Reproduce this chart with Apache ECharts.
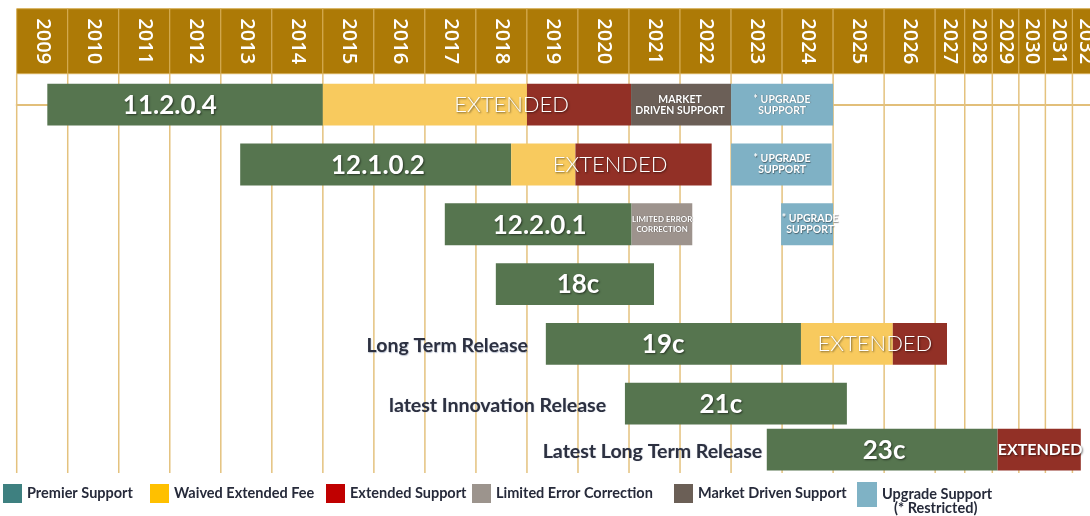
<!DOCTYPE html>
<html><head><meta charset="utf-8">
<script src="https://cdn.jsdelivr.net/npm/echarts@6/dist/echarts.min.js"></script>
<style>html,body{margin:0;padding:0;background:#fff}#c{width:1090px;height:516px}</style>
</head><body><div id="c"></div>
<script>
// ---------- data ----------
const yearLabels = ['2009','2010','2011','2012','2013','2014','2015','2016','2017','2018','2019','2020',
  '2021','2022','2023','2024','2025','2026','2027','2028','2029','2030','2031','2032'];
const releases = ['11.2.0.4','12.1.0.2','12.2.0.1','18c','19c','21c','23c'];
const rowLane = [0, 1, 2, 3, 4, 5, 5.77];
// [row, fromYear, toYear]
const premier      = [[0,2009.6,2015.0],[1,2013.38,2018.69],[2,2017.39,2021.05],[3,2018.39,2021.49],[4,2019.37,2024.37],[5,2020.92,2025.27],[6,2023.7,2029.2]];
const waived       = [[0,2015.0,2019.0],[1,2018.69,2019.95],[4,2024.37,2026.17]];
const extended     = [[0,2019.0,2021.04],[1,2019.95,2022.62],[4,2026.17,2027.4],[6,2029.2,2032.31]];
const limitedError = [[2,2021.05,2022.24]];
const marketDriven = [[0,2021.04,2023.0]];
const upgrade      = [[0,2023.0,2025.0],[1,2023.0,2024.97],[2,2023.98,2025.0]];
// version label centre (year) per release row
const versionLabelAt = [2012.0, 2016.08, 2019.25, 2020.0, 2021.67, 2022.8, 2026.0];
// [row, centreYear, text, kind]
const bandNotes = [
  [0, 2018.7, 'EXTENDED', 'big'],
  [1, 2020.63, 'EXTENDED', 'big'],
  [4, 2025.82, 'EXTENDED', 'big'],
  [6, 2030.8, 'EXTENDED', 'bold'],
  [0, 2022.0, 'MARKET\nDRIVEN SUPPORT', 'small'],
  [0, 2024.0, '* UPGRADE\nSUPPORT', 'small'],
  [1, 2024.0, '* UPGRADE\nSUPPORT', 'small'],
  [2, 2024.55, '* UPGRADE\nSUPPORT', 'small'],
  [2, 2021.65, 'LIMITED ERROR\nCORRECTION', 'tiny']
];
// [row, text, right edge year]
const sideNotes = [[4,'Long Term Release',2019.02],[5,'latest Innovation Release',2020.55],[6,'Latest Long Term Release',2023.61]];
const legendNames = ['Premier Support','Waived Extended Fee','Extended Support','Limited Error Correction','Market Driven Support','Upgrade Support'];

// ---------- styling / scale ----------
const legendColors = ['#3e8080','#ffc000','#c00000','#9c948d','#6b5f56','#7fb2c5'];
const barColors    = ['#56754f','#f8ca5e','#923026','#9d938d','#6b5f57','#7fb1c5'];
const legendLeft   = [3, 150, 326, 472, 674, 857];
const colWeight = {2027:0.58, 2028:0.54, 2029:0.52, 2030:0.52, 2031:0.53, 2032:0.53};
function w(y){ return colWeight[y] || 1; }
function unit(y){
  const f = Math.floor(y); let u = 0;
  for (let k = 2009; k < f; k++) u += w(k);
  return u + (y - f) * w(f);
}
const X_MAX = unit(2032.65);
const Y_MIN = -0.518, Y_MAX = 6.16, HALF = 0.35;
const FONT = 'Lato, "Open Sans", sans-serif';

function segSeries(idx, segs){
  const color = barColors[idx];
  return {
    type:'custom', name: legendNames[idx], xAxisIndex:1, yAxisIndex:1, z:3, clip:true,
    itemStyle:{color},
    data: segs.map(s => [unit(s[1]), unit(s[2]), rowLane[s[0]]]),
    renderItem(params, api){
      const a = api.coord([api.value(0), api.value(2) - HALF]);
      const b = api.coord([api.value(1), api.value(2) + HALF]);
      return {type:'rect', shape:{x:a[0], y:Math.min(a[1],b[1]), width:b[0]-a[0], height:Math.abs(b[1]-a[1])},
        style:{fill:color}};
    }
  };
}

const shadow = {textShadowColor:'rgba(0,0,0,0.55)', textShadowBlur:2, textShadowOffsetX:1, textShadowOffsetY:1};
const noteStyles = {
  big:  {font:'300 22px ' + FONT, lineHeight:24},
  bold: {font:'bold 16px ' + FONT, lineHeight:18},
  small:{font:'bold 10.5px ' + FONT, lineHeight:11},
  tiny: {font:'bold 8px ' + FONT, lineHeight:10}
};
const legendText = {fontFamily:FONT, fontWeight:'bold', fontSize:14.5, color:'#262a3a'};

const option = {
  animation:false,
  backgroundColor:'#fff',
  grid:[
    {left:16.7, right:0, top:8.7, height:65},
    {left:16.7, right:0, top:73.7, bottom:43}
  ],
  xAxis:[
    {gridIndex:0, type:'value', min:0, max:X_MAX, show:false},
    {gridIndex:1, type:'value', min:0, max:X_MAX, position:'bottom',
      axisLine:{show:true, lineStyle:{color:'#e2bf7a', width:2}}, axisTick:{show:false}, axisLabel:{show:false}, splitLine:{show:false}}
  ],
  yAxis:[
    {gridIndex:0, type:'value', min:0, max:1, show:false},
    {gridIndex:1, type:'value', min:Y_MIN, max:Y_MAX, inverse:true, show:false}
  ],
  legend: legendNames.map((n,i) => {
    const l = {
      data:[{name:n, itemStyle:{color:legendColors[i], borderWidth:0}}],
      left:legendLeft[i], top:484, padding:0, itemGap:0, icon:'rect', itemWidth:19, itemHeight:19,
      selectedMode:false,
      textStyle:Object.assign({}, legendText)
    };
    if (n === 'Upgrade Support') {
      l.formatter = () => '{e| }\n{a|Upgrade Support}\n{b|(* Restricted)}';
      l.textStyle.rich = {
        e:Object.assign({lineHeight:14}, legendText),
        a:Object.assign({lineHeight:14}, legendText),
        b:Object.assign({lineHeight:14, padding:[0,0,0,12]}, legendText)
      };
      l.itemWidth = 20; l.itemHeight = 25;
      l.top = 473;
    }
    return l;
  }),
  series:[
    // header cells with year labels
    {
      type:'custom', xAxisIndex:0, yAxisIndex:0, z:1, silent:true, clip:false,
      data: yearLabels.map(y => [unit(+y), unit(+y + 1)]),
      renderItem(params, api){
        const cs = params.coordSys;
        const x0 = api.coord([api.value(0), 0])[0];
        const x1 = api.coord([api.value(1), 0])[0];
        return {type:'group', children:[
          {type:'rect', shape:{x:x0, y:cs.y, width:x1-x0, height:cs.height},
            style:{fill:'#ad7a06', stroke:'#d6ad55', lineWidth:1}},
          {type:'text', x:(x0+x1)/2, y:cs.y + cs.height/2, rotation:-Math.PI/2,
            style:{text:yearLabels[params.dataIndex], x:0, y:0, align:'center', verticalAlign:'middle',
              fill:'#fff', font:'600 20px "Open Sans", sans-serif'}}
        ]};
      }
    },
    // vertical year grid lines
    {
      type:'custom', xAxisIndex:1, yAxisIndex:1, z:1, silent:true, clip:false,
      data: yearLabels.map(y => [unit(+y)]),
      renderItem(params, api){
        const cs = params.coordSys;
        const x = api.coord([api.value(0), 0])[0];
        return {type:'line', shape:{x1:x, y1:cs.y, x2:x, y2:cs.y + cs.height},
          style:{stroke:'#e4c27e', lineWidth:1.5}};
      }
    },
    segSeries(0, premier),
    segSeries(1, waived),
    segSeries(2, extended),
    segSeries(3, limitedError),
    segSeries(4, marketDriven),
    segSeries(5, upgrade),
    // version labels
    {
      type:'custom', xAxisIndex:1, yAxisIndex:1, z:5, silent:true,
      data: versionLabelAt.map((y,i) => [unit(y), rowLane[i]]),
      renderItem(params, api){
        const p = api.coord([api.value(0), api.value(1)]);
        return {type:'text', style:Object.assign({text:releases[params.dataIndex], x:p[0], y:p[1]+1,
          align:'center', verticalAlign:'middle', fill:'#fff', font:'bold 26px ' + FONT}, shadow)};
      }
    },
    // band notes
    {
      type:'custom', xAxisIndex:1, yAxisIndex:1, z:5, silent:true, clip:false,
      data: bandNotes.map(b => [unit(b[1]), rowLane[b[0]]]),
      renderItem(params, api){
        const b = bandNotes[params.dataIndex];
        const p = api.coord([api.value(0), api.value(1)]);
        const st = noteStyles[b[3]];
        const sh = (b[3] === 'small' || b[3] === 'tiny') ?
          {textShadowColor:'rgba(0,0,0,0.45)', textShadowBlur:1, textShadowOffsetX:0.5, textShadowOffsetY:0.5} : shadow;
        return {type:'text', style:Object.assign({text:b[2], x:p[0], y:p[1], align:'center', verticalAlign:'middle',
          fill:'#fff', font:st.font, lineHeight:st.lineHeight}, sh)};
      }
    },
    // side notes
    {
      type:'custom', xAxisIndex:1, yAxisIndex:1, z:5, silent:true, clip:false,
      data: sideNotes.map(s => [unit(s[2]), rowLane[s[0]]]),
      renderItem(params, api){
        const s = sideNotes[params.dataIndex];
        const p = api.coord([api.value(0), api.value(1)]);
        return {type:'text', style:{text:s[1], x:p[0], y:p[1]+2, align:'right', verticalAlign:'middle',
          fill:'#2c3040', font:'bold 19.5px ' + FONT,
          textShadowColor:'rgba(60,80,120,0.35)', textShadowBlur:1, textShadowOffsetX:0.5, textShadowOffsetY:0.5}};
      }
    }
  ]
};
const chart = echarts.init(document.getElementById('c'), null, {renderer:'canvas'});
chart.setOption(option);
</script>
</body></html>
